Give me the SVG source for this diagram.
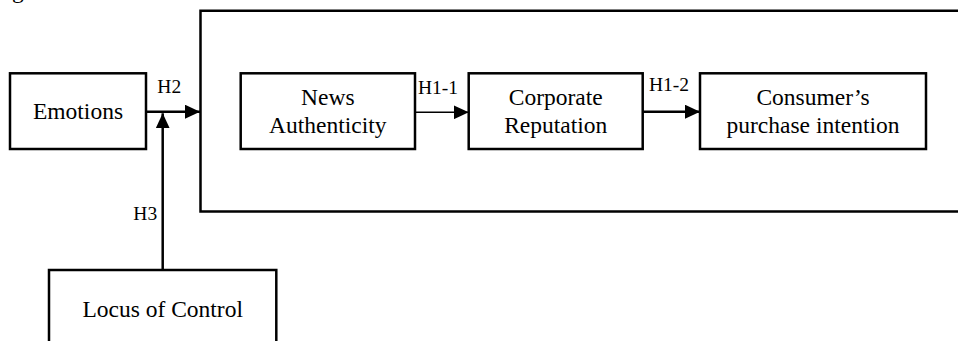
<svg xmlns="http://www.w3.org/2000/svg" width="958" height="341" viewBox="0 0 958 341">
<style>
.box{fill:#fff;stroke:#000;stroke-width:2.5}
.frame{fill:none;stroke:#000;stroke-width:2.5}
.t{font-family:"Liberation Serif","Times New Roman",serif;font-size:23.5px;fill:#000;text-anchor:middle}
.lbl{font-family:"Liberation Serif","Times New Roman",serif;font-size:19.5px;fill:#000}
.ln{stroke:#000;stroke-width:2.5;fill:none}
.thin{stroke:#000;stroke-width:1.6;fill:none}
</style>
<defs>
<marker id="ah" markerUnits="userSpaceOnUse" markerWidth="16" markerHeight="14" refX="15" refY="7" orient="auto">
<path d="M0,0 L15,7 L0,14 Z" fill="#000"/>
</marker>
</defs>
<rect width="958" height="341" fill="#fff"/>
<text class="lbl" x="12" y="-2" style="font-size:23.5px">g</text>
<g id="frame">
<path class="frame" d="M960,10.7 L200.5,10.7 L200.5,211.5 L960,211.5"/>
</g>
<g id="emotions">
<rect class="box" x="10" y="73.3" width="136" height="75.7"/>
<text class="t" x="78" y="119.3">Emotions</text>
</g>
<g id="locus">
<rect class="box" x="49" y="270" width="227.3" height="90"/>
<text class="t" x="162.7" y="316.7">Locus of Control</text>
</g>
<g id="news">
<rect class="box" x="240.7" y="73.3" width="174.3" height="75.7"/>
<text class="t" x="327.8" y="105">News</text>
<text class="t" x="327.8" y="133.3">Authenticity</text>
</g>
<g id="corporate">
<rect class="box" x="468.7" y="73.3" width="174" height="75.7"/>
<text class="t" x="555.7" y="105">Corporate</text>
<text class="t" x="555.7" y="133.3">Reputation</text>
</g>
<g id="consumer">
<rect class="box" x="700" y="73.3" width="226" height="75.7"/>
<text class="t" x="813" y="105">Consumer’s</text>
<text class="t" x="813" y="133.3">purchase intention</text>
</g>
<g id="connectors">
<line class="ln" x1="146" y1="111.7" x2="200" y2="111.7" marker-end="url(#ah)"/>
<line class="ln" x1="162.7" y1="270" x2="162.7" y2="113.3" marker-end="url(#ah)"/>
<line class="thin" x1="415" y1="112.3" x2="468.7" y2="112.3" marker-end="url(#ah)"/>
<line class="ln" x1="642.7" y1="111.7" x2="700" y2="111.7" marker-end="url(#ah)"/>
<text class="lbl" x="157.3" y="93.3">H2</text>
<text class="lbl" x="133.3" y="220">H3</text>
<text class="lbl" x="418" y="94">H1-1</text>
<text class="lbl" x="649" y="90.5">H1-2</text>
</g>
</svg>
